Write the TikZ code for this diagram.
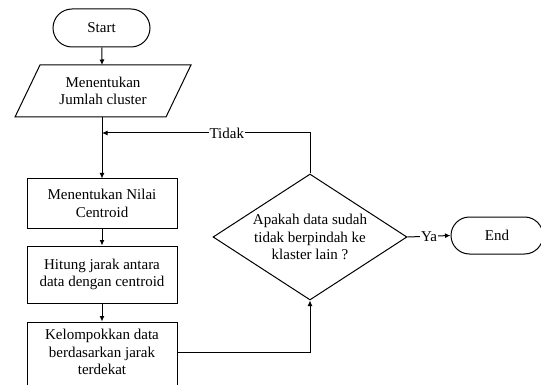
\documentclass[tikz,border=0pt]{standalone}
\usepackage{fontspec}
\setmainfont{Liberation Serif}
\newfontfamily\tms{Liberation Serif}
\usetikzlibrary{shapes.misc,shapes.geometric,arrows.meta}
\tikzset{
  x=1pt,y=-1pt,
  every node/.style={font=\tms\fontsize{15}{17.5}\selectfont, align=center},
  line/.style={draw, line width=1pt},
  arr/.style={line, -{Latex[length=5.5pt,width=5pt]}},
  term/.style={draw, line width=1pt, rounded rectangle, inner sep=0pt},
  proc/.style={draw, line width=1pt, rectangle, inner sep=0pt, minimum width=150pt},
  lab/.style={fill=white, inner sep=1pt}
}
\begin{document}
\begin{tikzpicture}
\clip (0,0) rectangle (541,385);
\node[term, minimum width=97pt, minimum height=38pt] (start) at (101.5,28) {Start};
% parallelogram
\draw[line] (40,65) -- (191,65) -- (166,117) -- (15,117) -- cycle;
\coordinate (inpT) at (102,65);
\coordinate (inpB) at (102,117);
\node (inp) at (103,91) {Menentukan\\Jumlah cluster};
\coordinate (mrg) at (102,133);
\node[proc, minimum height=49pt] (box1) at (102,203.5) {Menentukan Nilai\\Centroid};
\node[proc, minimum height=57pt] (box2) at (102,274.5) {Hitung jarak antara\\data dengan centroid};
\node[proc, minimum height=66pt] (box3) at (102,355) {};
\node (box3t) at (102,352) {Kelompokkan data\\berdasarkan jarak\\terdekat};
\node[draw, line width=1pt, diamond, minimum width=194pt, minimum height=126pt, inner sep=0pt] (dia) at (310,237) {};
\node (diat) at (310,237) {Apakah data sudah\\tidak berpindah ke\\klaster lain ?};
\node[term, minimum width=92pt, minimum height=37pt] (end) at (497,235.5) {End};
% connectors
\draw[arr] (start) -- (inpT);
\draw[arr] (inpB) -- (box1);
\draw[arr] (dia.north) |- node[lab, pos=0.70] {Tidak} (mrg);
\draw[arr] (box1) -- (box2);
\draw[arr] (box2) -- (box3);
\draw[arr] (box3.east |- 0,352) -| (dia.south);
\draw[arr] (dia.east) -- node[lab] {Ya} (end.west);
\end{tikzpicture}
\end{document}
